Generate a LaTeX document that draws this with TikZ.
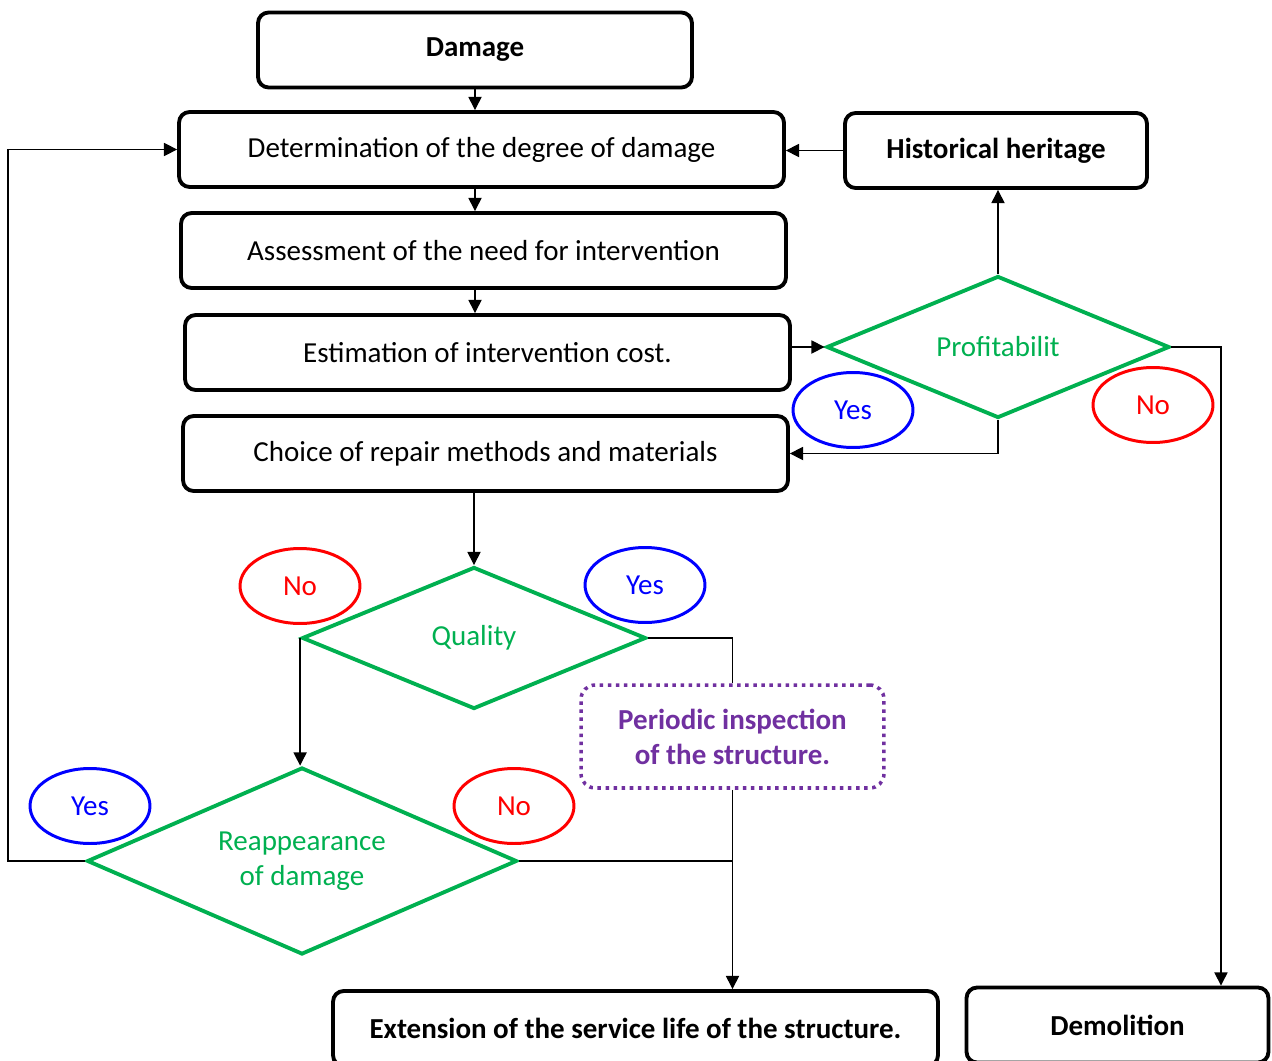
\documentclass[tikz,border=0pt]{standalone}
\usepackage{fontspec}
\setmainfont{Carlito}
\usepackage{xcolor}
\usepackage{tikz}
\usetikzlibrary{arrows.meta,positioning,shapes.geometric}
\definecolor{okgreen}{RGB}{0,176,80}
\definecolor{okpurple}{RGB}{112,48,160}

\begin{document}
\begin{tikzpicture}[x=0.02cm, y=-0.02cm, >={Triangle[length=7.5pt,width=7.5pt]}, font=\fontsize{16.5}{20}\selectfont]
\tikzstyle{box}=[rectangle,draw,line width=2.2pt,rounded corners=6pt,minimum width=12.1cm,minimum height=1.5cm,align=center]
\tikzstyle{sbox}=[box,minimum width=6.04cm]
\tikzstyle{dec}=[diamond,aspect=2.3,draw=okgreen,line width=2.2pt,text=okgreen,inner sep=0pt,align=center]
\tikzstyle{yes}=[ellipse,draw=blue,line width=1.7pt,text=blue,minimum width=2.4cm,minimum height=1.5cm]
\tikzstyle{no}=[ellipse,draw=red,line width=1.7pt,text=red,minimum width=2.4cm,minimum height=1.5cm]
\tikzstyle{conn}=[line width=0.7pt]
\path[use as bounding box,clip] (0,0) rectangle (1272,1061);

\node[box,minimum width=8.68cm,font=\fontsize{16.5}{20}\selectfont\bfseries] (dmg) at (475,50) {Damage};
\node[box] (det) at (481.5,149.5) {Determination of the degree of damage};
\node[box] (asm) at (483.5,250.5) {Assessment of the need for intervention};
\node[box] (est) at (487.5,352.5) {Estimation of intervention cost.};
\node[box] (cho) at (485.5,453.5) {Choice of repair methods and materials};
\node[sbox,font=\fontsize{16.5}{20}\selectfont\bfseries] (hist) at (996,150.5) {Historical heritage};
\node[dec,minimum width=6.86cm,minimum height=2.84cm] (prof) at (998,347) {Profitabilit};
\node[dec,minimum width=6.88cm,minimum height=2.84cm] (qual) at (474,638) {Quality};
\node[dec,minimum width=8.6cm,minimum height=3.74cm] (reap) at (302,861) {Reappearance\\of damage};
\node[rectangle,draw=okpurple,line width=2pt,dash pattern=on 2pt off 2.6pt,rounded corners=8pt,minimum width=6.06cm,minimum height=2.06cm,align=center,text=okpurple,font=\fontsize{16.5}{20}\selectfont\bfseries] (insp) at (732.5,736.5) {Periodic inspection\\of the structure.};
\node[box,font=\fontsize{16.5}{20}\selectfont\bfseries] (ext) at (635.5,1028.5) {Extension of the service life of the structure.};
\node[sbox,font=\fontsize{16.5}{20}\selectfont\bfseries] (dem) at (1117.5,1025) {Demolition};

\node[yes] (y1) at (853,410) {Yes};
\node[no] (n1) at (1153,405) {No};
\node[no] (n2) at (300,586) {No};
\node[yes] (y2) at (645,585) {Yes};
\node[yes] (y3) at (90,806) {Yes};
\node[no] (n3) at (514,806) {No};

\draw[conn,->] (dmg.south) -- (dmg.south |- det.north);
\draw[conn,->] (dmg.south |- det.south) -- (dmg.south |- asm.north);
\draw[conn,->] (dmg.south |- asm.south) -- (dmg.south |- est.north);
\draw[conn,->] (prof.west -| est.east) -- (prof.west);
\draw[conn,->] (hist.west) -- (hist.west -| det.east);
\draw[conn,->] (prof.north) -- (prof.north |- hist.south);
\draw[conn,->] (prof.south) |- (cho.east);
\draw[conn,->] (prof.east) -| ([xshift=2.07cm]dem.north);
\draw[conn,->] (qual.north |- cho.south) -- (qual.north);
\draw[conn,->] (qual.west) -- (qual.west |- reap.north);
\draw[conn] (qual.east) -| (insp.north);
\draw[conn,->] (insp.south) -- (insp.south |- ext.north);
\draw[conn] (reap.east) -- (reap.east -| insp.south);
\draw[conn,->] (reap.west) -- ++(-77,0) |- (det.west);
\end{tikzpicture}
\end{document}
